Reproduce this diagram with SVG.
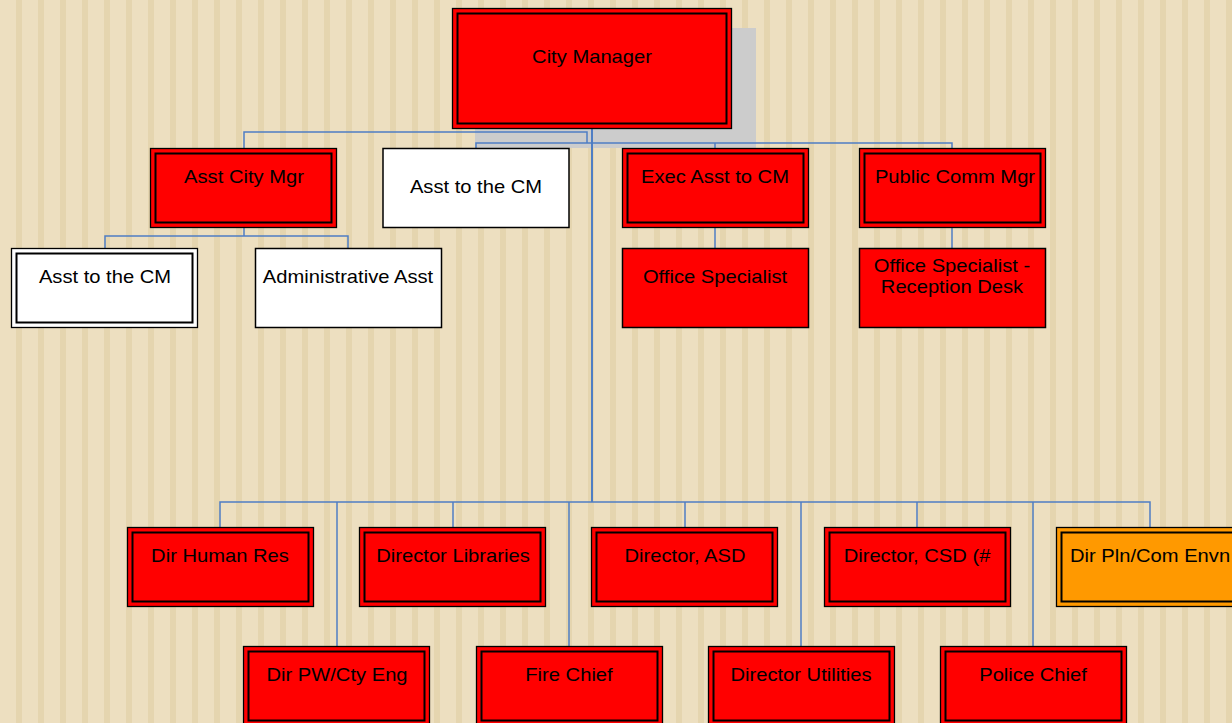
<svg xmlns="http://www.w3.org/2000/svg" width="1232" height="723" viewBox="0 0 1232 723">
<defs>
<pattern id="stripes" x="0" y="0" width="22" height="40" patternUnits="userSpaceOnUse">
<rect x="0" y="0" width="22" height="40" fill="#EDDFC0"/>
<rect x="16" y="0" width="6" height="40" fill="#E5D5AF"/>
</pattern>
<style>
.outer{stroke:#000;stroke-width:1.3}
.inner{fill:none;stroke:#000;stroke-width:2}
.single{stroke:#000;stroke-width:1.5}
.red{fill:#FF0000}
.white{fill:#FFFFFF}
.orange{fill:#FF9900}
.conn{fill:none;stroke:#4F7EC4;stroke-width:1.5}
text{font-family:"Liberation Sans",Arial,sans-serif;font-size:18px;fill:#000;text-anchor:middle}
</style>
</defs>
<rect x="0" y="0" width="1232" height="723" fill="url(#stripes)"/>
<rect x="475" y="28" width="281" height="120" fill="#CCCCCC"/>
<g id="connectors">
<path class="conn" style="stroke-width:2" d="M592 129 V502"/>
<path class="conn" d="M244 148 V132 H587 V143"/>
<path class="conn" d="M476 148 V143 H952 V148"/>
<path class="conn" d="M715 143 V148"/>
<path class="conn" d="M715 228 V248"/>
<path class="conn" d="M952 228 V248"/>
<path class="conn" d="M244 228 V236"/>
<path class="conn" d="M105 248 V236 H348 V248"/>
<path class="conn" d="M220 527 V502 H1150 V527"/>
<path class="conn" d="M453 502 V527"/>
<path class="conn" d="M685 502 V527"/>
<path class="conn" d="M917 502 V527"/>
<path class="conn" d="M337 502 V646"/>
<path class="conn" d="M569 502 V646"/>
<path class="conn" d="M801 502 V646"/>
<path class="conn" d="M1033 502 V646"/>
</g>
<g id="city-manager">
<rect class="outer red" x="452.5" y="8.5" width="279" height="120"/>
<rect class="inner" x="457.5" y="13.5" width="269" height="110"/>
<text transform="translate(592 63) scale(1.12 1)">City Manager</text>
</g>
<g id="asst-city-mgr">
<rect class="outer red" x="150.5" y="148.5" width="186" height="79"/>
<rect class="inner" x="155.5" y="153.5" width="176" height="69"/>
<text transform="translate(244 183) scale(1.12 1)">Asst City Mgr</text>
</g>
<g id="asst-to-cm-top">
<rect class="single white" x="383" y="148.5" width="186" height="79"/>
<text transform="translate(476 193) scale(1.12 1)">Asst to the CM</text>
</g>
<g id="exec-asst">
<rect class="outer red" x="622.5" y="148.5" width="186" height="79"/>
<rect class="inner" x="627.5" y="153.5" width="176" height="69"/>
<text transform="translate(715 183) scale(1.12 1)">Exec Asst to CM</text>
</g>
<g id="public-comm">
<rect class="outer red" x="859.5" y="148.5" width="186" height="79"/>
<rect class="inner" x="864.5" y="153.5" width="176" height="69"/>
<text transform="translate(955 183) scale(1.12 1)">Public Comm Mgr</text>
</g>
<g id="asst-to-cm-left">
<rect class="outer white" x="11.5" y="248.5" width="186" height="79"/>
<rect class="inner" x="16.5" y="253.5" width="176" height="69"/>
<text transform="translate(105 283) scale(1.12 1)">Asst to the CM</text>
</g>
<g id="admin-asst">
<rect class="single white" x="255.5" y="248.5" width="186" height="79"/>
<text transform="translate(348 283) scale(1.12 1)">Administrative Asst</text>
</g>
<g id="office-specialist">
<rect class="single red" x="622.5" y="248.5" width="186" height="79"/>
<text transform="translate(715 283) scale(1.12 1)">Office Specialist</text>
</g>
<g id="office-specialist-reception">
<rect class="single red" x="859.5" y="248.5" width="186" height="79"/>
<text transform="translate(952 272) scale(1.12 1)">Office Specialist -</text>
<text transform="translate(952 293) scale(1.12 1)">Reception Desk</text>
</g>
<g id="dir-human-res">
<rect class="outer red" x="127.5" y="527.5" width="186" height="79"/>
<rect class="inner" x="132.5" y="532.5" width="176" height="69"/>
<text transform="translate(220 562) scale(1.12 1)">Dir Human Res</text>
</g>
<g id="director-libraries">
<rect class="outer red" x="359.5" y="527.5" width="186" height="79"/>
<rect class="inner" x="364.5" y="532.5" width="176" height="69"/>
<text transform="translate(453 562) scale(1.12 1)">Director Libraries</text>
</g>
<g id="director-asd">
<rect class="outer red" x="591.5" y="527.5" width="186" height="79"/>
<rect class="inner" x="596.5" y="532.5" width="176" height="69"/>
<text transform="translate(685 562) scale(1.12 1)">Director, ASD</text>
</g>
<g id="director-csd">
<rect class="outer red" x="824.5" y="527.5" width="186" height="79"/>
<rect class="inner" x="829.5" y="532.5" width="176" height="69"/>
<text transform="translate(917 562) scale(1.12 1)">Director, CSD (#</text>
</g>
<g id="dir-pln-com-envn">
<rect class="outer orange" x="1056.5" y="527.5" width="186" height="79"/>
<rect class="inner" x="1061.5" y="532.5" width="176" height="69"/>
<text transform="translate(1150 562) scale(1.12 1)">Dir Pln/Com Envn</text>
</g>
<g id="dir-pw">
<rect class="outer red" x="243.5" y="646.5" width="186" height="79"/>
<rect class="inner" x="248.5" y="651.5" width="176" height="69"/>
<text transform="translate(337 681) scale(1.12 1)">Dir PW/Cty Eng</text>
</g>
<g id="fire-chief">
<rect class="outer red" x="476.5" y="646.5" width="186" height="79"/>
<rect class="inner" x="481.5" y="651.5" width="176" height="69"/>
<text transform="translate(569 681) scale(1.12 1)">Fire Chief</text>
</g>
<g id="director-utilities">
<rect class="outer red" x="708.5" y="646.5" width="186" height="79"/>
<rect class="inner" x="713.5" y="651.5" width="176" height="69"/>
<text transform="translate(801 681) scale(1.12 1)">Director Utilities</text>
</g>
<g id="police-chief">
<rect class="outer red" x="940.5" y="646.5" width="186" height="79"/>
<rect class="inner" x="945.5" y="651.5" width="176" height="69"/>
<text transform="translate(1033 681) scale(1.12 1)">Police Chief</text>
</g>
</svg>
